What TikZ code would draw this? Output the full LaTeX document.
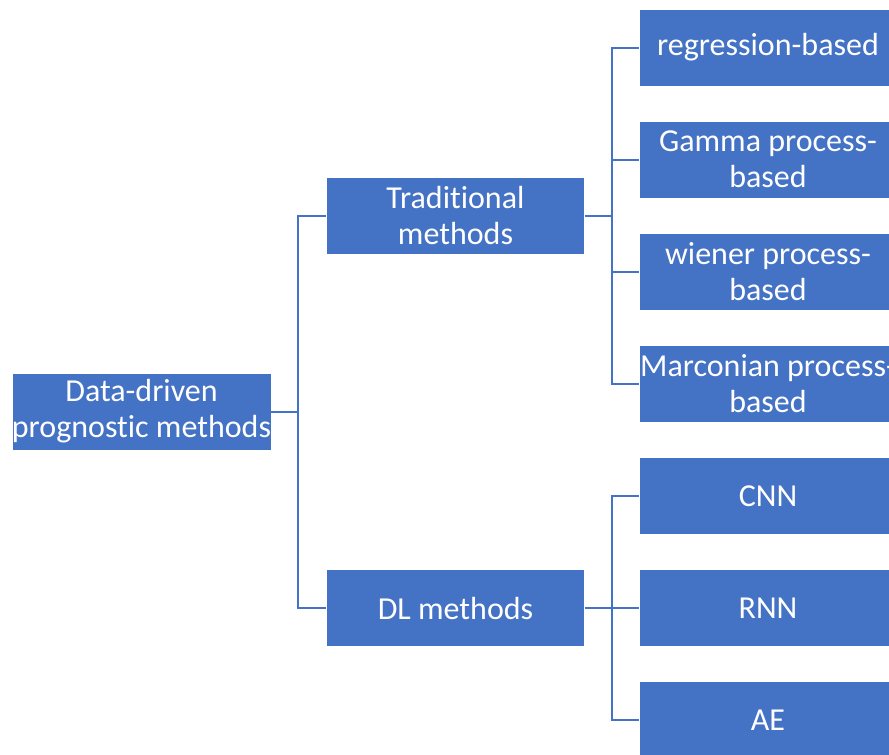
\documentclass[tikz,border=0pt]{standalone}
\usepackage{fontspec}
\setmainfont[Ligatures=NoCommon]{Carlito}
\definecolor{officeblue}{HTML}{4472C4}
\begin{document}
\begin{tikzpicture}[x=1pt,y=-1pt,
  box/.style={fill=officeblue, draw=white, line width=0.6pt, text=white,
    minimum width=258pt, minimum height=77pt, inner sep=0pt,
    align=center, font=\fontsize{32}{36}\selectfont},
  link/.style={draw=officeblue, line width=2pt}]
\useasboundingbox (0,0) rectangle (889,755);
\clip (0,0) rectangle (889,755);
% root and first level
\node[box, minimum width=259pt] (root) at (141.5,411.5) {Data-driven\\prognostic methods};
\node[box] (trad) at (455.5,215.5) {Traditional\\methods};
\node[box] (dl) at (455.5,608) {DL methods};
% leaves (the right column runs past the right edge)
\node[box] (reg) at (768,47.5) {regression-based};
\node[box] (gam) at (768,159.5) {Gamma process-\\based};
\node[box] (wie) at (768,271.5) {wiener process-\\based};
\node[box] (mar) at (768,383.5) {Marconian process-\\based};
\node[box] (cnn) at (768,496) {CNN};
\node[box] (rnn) at (768,608) {RNN};
\node[box] (ae) at (768,720) {AE};
% elbow connectors
\draw[link] (root.east) -- ++(27,0) |- (trad.west);
\draw[link] (root.east) -- ++(27,0) |- (dl.west);
\foreach \c in {reg,gam,wie,mar}
  \draw[link] (trad.east) -- ++(27,0) |- (\c.west);
\foreach \c in {cnn,rnn,ae}
  \draw[link] (dl.east) -- ++(27,0) |- (\c.west);
\end{tikzpicture}
\end{document}
